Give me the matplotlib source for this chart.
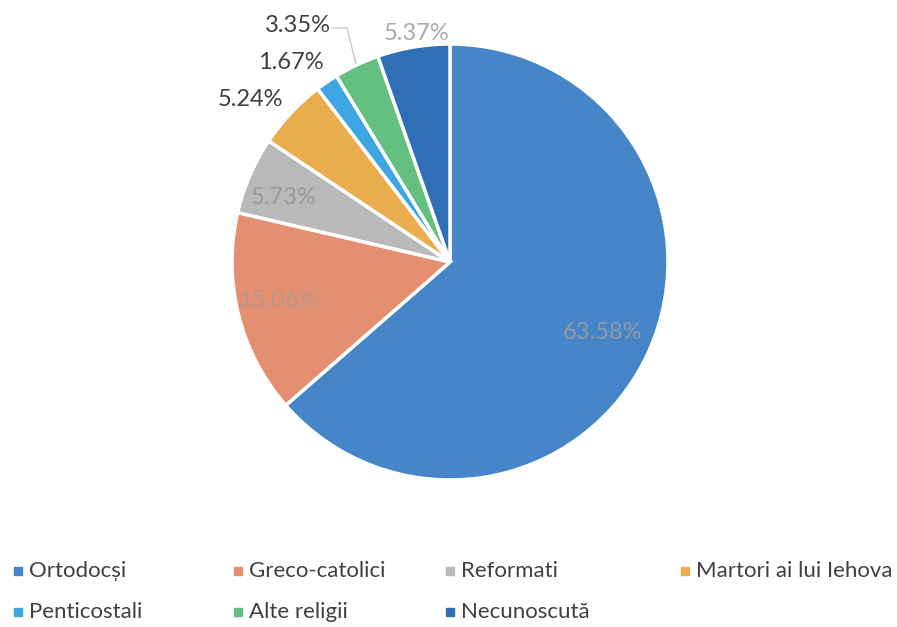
import numpy as np
import matplotlib.pyplot as plt

plt.rcParams["font.family"] = ["Lato", "DejaVu Sans"]

labels = ["Ortodocși", "Greco-catolici", "Reformati", "Martori ai lui Iehova",
          "Penticostali", "Alte religii", "Necunoscută"]
values = [63.58, 15.06, 5.73, 5.24, 1.67, 3.35, 5.37]
colors = ["#4585c8", "#e48f6f", "#b9b9b9", "#e9ad4e", "#3ea7e3", "#63c080", "#2f6fb6"]

# label placement: radial distance (in radii), angular nudge (deg), text colour
lab_r = [0.77, 0.81, 0.82, 1.18, 1.17, 1.29, 1.06]
lab_da = [-0.5, -1.5, 2.4, 4.1, 4.2, 7.4, -1.4]
lab_col = ["#8e9aa3", "#b8978a", "#999999", "#404040", "#404040", "#404040", "#aaaaaa"]

W, H = 897, 627
fig = plt.figure(figsize=(W / 100, H / 100), dpi=100)
ax = fig.add_axes([0, 0, 1, 1])

cx, cy, R = 450, H - 262, 218
wedges, _ = ax.pie(values, colors=colors, startangle=90, counterclock=False,
                   center=(cx, cy), radius=R, frame=True,
                   wedgeprops=dict(edgecolor="white", linewidth=2.5))
ax.set_xlim(0, W)
ax.set_ylim(0, H)
ax.axis("off")

for w, v, r, da, c in zip(wedges, values, lab_r, lab_da, lab_col):
    ang = np.deg2rad((w.theta1 + w.theta2) / 2 + da)
    x = cx + r * R * np.cos(ang)
    y = cy + r * R * np.sin(ang)
    ax.text(x, y, f"{v:.2f}%", ha="center", va="center", fontsize=17, color=c)

# leader line for the small green slice
g = wedges[5]
ga = np.deg2rad((g.theta1 + g.theta2) / 2)
ex, ey = cx + 1.01 * R * np.cos(ga), cy + 1.01 * R * np.sin(ga)
ax.plot([333, 347, ex], [H - 28, H - 28, ey], color="#c8c8c8", lw=1)

# legend
leg_pos = [(18, 571), (238, 571), (450, 571), (685, 571),
           (18, 612), (238, 612), (450, 612)]
for (lx, ly), lab, c in zip(leg_pos, labels, colors):
    ax.plot([lx], [H - ly], marker="s", ms=6, color=c, ls="none")
    ax.text(lx + 11, H - ly, lab, ha="left", va="center", fontsize=16, color="#404040")

fig.savefig("out.png", dpi=100)
